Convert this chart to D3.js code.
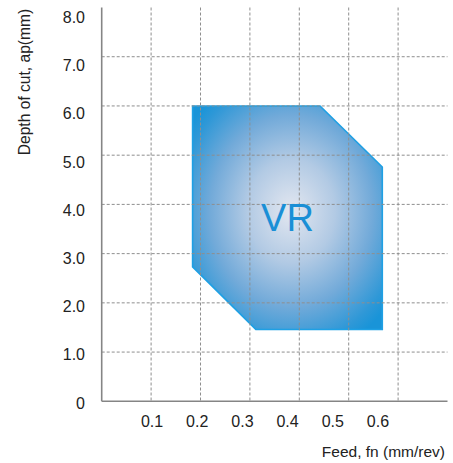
<!DOCTYPE html>
<html>
<head>
<meta charset="utf-8">
<script src="https://cdn.jsdelivr.net/npm/d3@7"></script>
<style>
  html, body { margin: 0; padding: 0; background: #fff; }
  svg { display: block; }
  text { font-family: "Liberation Sans", Arial, Helvetica, sans-serif; fill: #222; }
</style>
</head>
<body>
<svg id="chart" width="453" height="463"></svg>
<script>
// Applicable range of the VR chipbreaker: feed (mm/rev) vs depth of cut (mm)
const regionName = "VR";
const regionFeed  = [0.184, 0.442, 0.568, 0.568, 0.312, 0.184];
const regionDepth = [6.0,   6.0,   4.76,  1.46,  1.46,  2.73];

// Grid lines
const feedGrid  = [0.1, 0.2, 0.3, 0.4, 0.5, 0.6];
const depthGrid = [1, 2, 3, 4, 5, 6, 7];

// Tick labels
const feedTicks   = [0.1, 0.2, 0.3, 0.4, 0.5, 0.6];
const feedLabels  = ["0.1", "0.2", "0.3", "0.4", "0.5", "0.6"];
const depthTicks  = [0, 1, 2, 3, 4, 5, 6, 7, 8];
const depthLabels = ["0", "1.0", "2.0", "3.0", "4.0", "5.0", "6.0", "7.0", "8.0"];

const xTitle = "Feed, fn (mm/rev)";
const yTitle = "Depth of cut, ap(mm)";

const svg = d3.select("#chart");

// Plot scales (grid and region)
const x = d3.scaleLinear().domain([0, 0.7]).range([101.7, 447.5]);
const y = d3.scaleLinear().domain([0, 8]).range([401.3, 7.5]);

// Label scales (tick text is set on its own, slightly tighter spacing)
const xLab = d3.scaleLinear().domain([0, 0.7]).range([106.4, 422.6]);
const yLab = d3.scaleLinear().domain([0, 8]).range([403, 17.2]);

// Radial gradient for the region
const defs = svg.append("defs");
const grad = defs.append("radialGradient")
  .attr("id", "regionFill")
  .attr("cx", 0.52).attr("cy", 0.47).attr("r", 0.66)
  .attr("fx", 0.52).attr("fy", 0.47);
[
  [0,    "#e3e7f0"],
  [0.35, "#b2cae4"],
  [0.65, "#72aad9"],
  [0.9,  "#2f98d7"],
  [1,    "#1994d8"]
].forEach(([o, c]) => grad.append("stop").attr("offset", o).attr("stop-color", c));

// Region polygon
const pts = regionFeed.map((f, i) => [x(f), y(regionDepth[i])]);
svg.append("path")
  .attr("d", d3.line()(pts) + "Z")
  .attr("fill", "url(#regionFill)")
  .attr("stroke", "#1fa0e4")
  .attr("stroke-width", 1.6)
  .attr("stroke-linejoin", "miter");

// Dashed grid, drawn over the region
const grid = svg.append("g")
  .attr("stroke", "#8e8e8e")
  .attr("stroke-width", 1)
  .attr("stroke-dasharray", "3,2");
grid.selectAll("line.v").data(feedGrid).join("line")
  .attr("class", "v")
  .attr("x1", d => x(d)).attr("x2", d => x(d))
  .attr("y1", y(8)).attr("y2", y(0));
grid.selectAll("line.h").data(depthGrid).join("line")
  .attr("class", "h")
  .attr("x1", x(0)).attr("x2", x(0.7))
  .attr("y1", d => y(d)).attr("y2", d => y(d));

// Axis lines
const axes = svg.append("g").attr("stroke", "#858585").attr("stroke-width", 1.6);
axes.append("line").attr("x1", x(0)).attr("x2", x(0)).attr("y1", y(8)).attr("y2", y(0));
axes.append("line").attr("x1", x(0)).attr("x2", x(0.7)).attr("y1", y(0)).attr("y2", y(0));

// Tick labels via axes on the label scales
const xAxis = svg.append("g")
  .attr("transform", `translate(0, ${y(0) + 8})`)
  .call(d3.axisBottom(xLab).tickValues(feedTicks)
    .tickFormat((d, i) => feedLabels[i]).tickSize(0).tickPadding(6));
xAxis.select(".domain").remove();
xAxis.selectAll("text").attr("font-size", 16).style("fill", "#222");

const yAxis = svg.append("g")
  .attr("transform", `translate(85, 0)`)
  .call(d3.axisLeft(yLab).tickValues(depthTicks)
    .tickFormat((d, i) => depthLabels[i]).tickSize(0).tickPadding(0));
yAxis.select(".domain").remove();
yAxis.selectAll("text").attr("font-size", 16).style("fill", "#222");

// Axis titles
svg.append("text")
  .attr("x", 445).attr("y", 456.5)
  .attr("text-anchor", "end")
  .attr("font-size", 15.5)
  .text(xTitle);

svg.append("text")
  .attr("transform", "translate(30, 82) rotate(-90)")
  .attr("text-anchor", "middle")
  .attr("font-size", 15.6)
  .text(yTitle);

// Region label
svg.append("text")
  .attr("x", d3.mean([d3.min(pts, p => p[0]), d3.max(pts, p => p[0])]))
  .attr("y", 230.7)
  .attr("text-anchor", "middle")
  .attr("font-size", 38)
  .style("fill", "#1a8fd6")
  .text(regionName);
</script>
</body>
</html>
